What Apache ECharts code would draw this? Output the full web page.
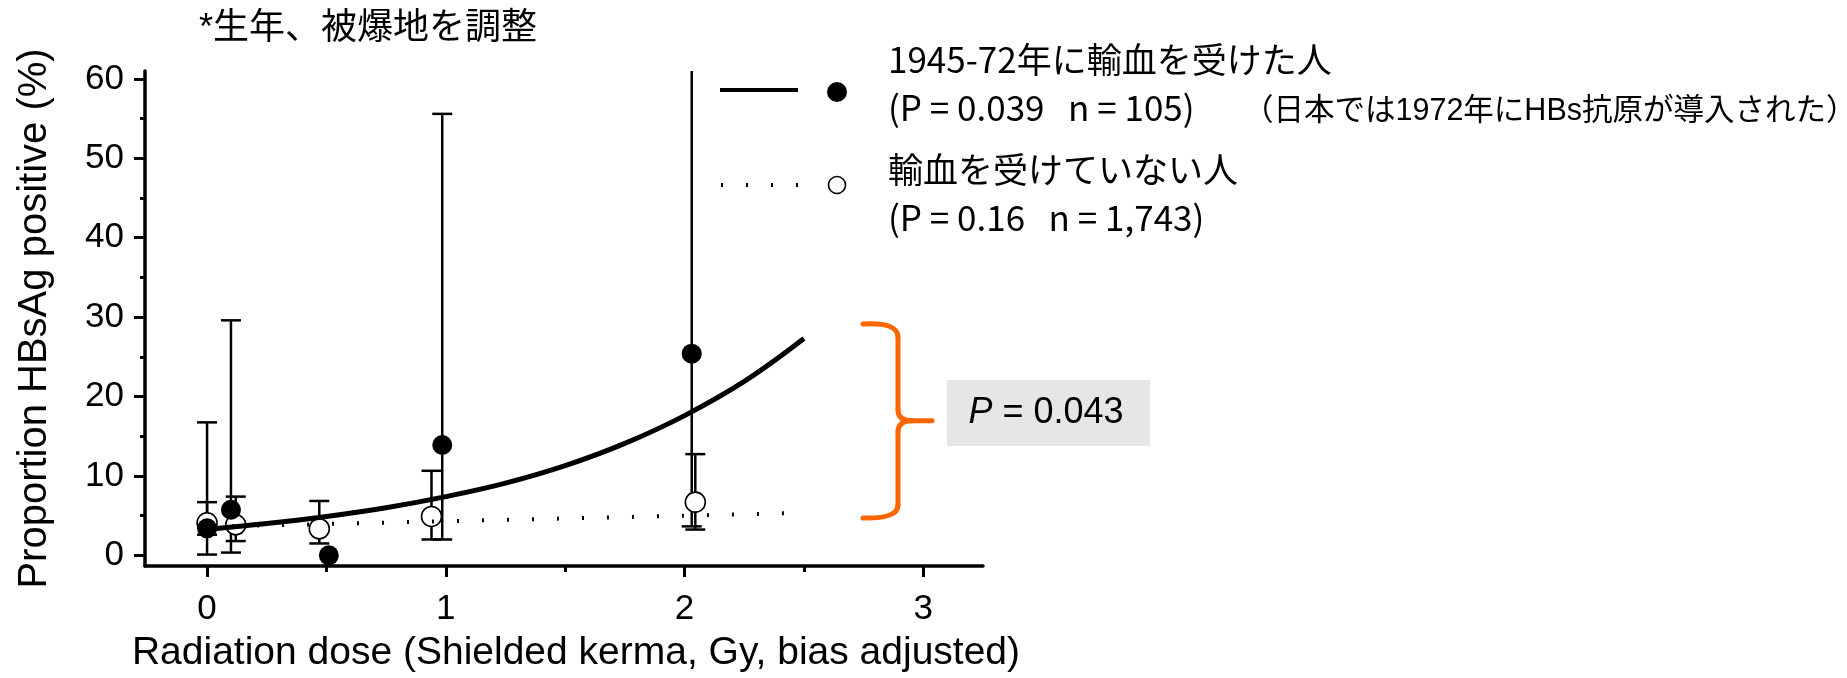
<!DOCTYPE html>
<html>
<head>
<meta charset="utf-8">
<script src="https://cdn.jsdelivr.net/npm/echarts@6/dist/echarts.min.js"></script>
<style>
html,body{margin:0;padding:0;background:#fff;}
#chart{width:1847px;height:678px;}
</style>
</head>
<body>
<div id="chart"></div>
<script>
// ---- data ----
const transfusedX    = [0, 0.10, 0.51, 0.985, 2.03];
const transfusedY    = [3.4, 5.75, 0.0, 13.9, 25.4];
const transfusedLow  = [0.1, 0.35, null, 2.0, 3.65];
const transfusedHigh = [16.75, 29.6, null, 55.6, 70];

const noTransX    = [0, 0.12, 0.47, 0.94, 2.045];
const noTransY    = [4.1, 3.85, 3.35, 4.9, 6.7];
const noTransLow  = [2.6, 1.8, 1.5, 2.0, 3.25];
const noTransHigh = [6.7, 7.4, 6.85, 10.65, 12.75];

const fitTransX = [0, 0.25, 0.5, 0.75, 1.0, 1.25, 1.5, 1.75, 2.0, 2.25, 2.5];
const fitTransY = [3.25, 4.0, 4.9, 6.0, 7.4, 9.1, 11.3, 14.1, 17.6, 21.9, 27.3];

const fitNoTransX = [0, 0.5, 1.0, 1.5, 2.0, 2.42];
const fitNoTransY = [3.6, 3.95, 4.3, 4.65, 5.0, 5.3];

const xTicks = [0, 1, 2, 3];
const xMinorTicks = [0.5, 1.5, 2.5];
const yTicks = [0, 10, 20, 30, 40, 50, 60];
const yMinorTicks = [5, 15, 25, 35, 45, 55];

// ---- styling ----
const LATIN = "'Liberation Sans', Arial, sans-serif";
const JP = "'Noto Sans CJK JP', sans-serif";
const MIX = "'Liberation Sans', 'Noto Sans CJK JP', sans-serif";
const X_MIN = -0.26, X_MAX = 3.25, Y_MIN = -1.34, Y_MAX = 61;

const zip = (a, b) => a.map((v, i) => [v, b[i]]);
const errData = (xs, lo, hi) => xs.map((v, i) => [v, lo[i], hi[i]]).filter(d => d[1] != null);

function errRender(params, api) {
  const x = api.value(0), lo = api.value(1), hi = api.value(2);
  const hiC = Math.min(hi, Y_MAX);
  const pLo = api.coord([x, lo]);
  const pHi = api.coord([x, hiC]);
  const w = 10;
  const st = {stroke: '#000', lineWidth: 2.5};
  const children = [
    {type: 'line', shape: {x1: pLo[0], y1: pLo[1], x2: pHi[0], y2: pHi[1]}, style: st},
    {type: 'line', shape: {x1: pLo[0] - w, y1: pLo[1], x2: pLo[0] + w, y2: pLo[1]}, style: st}
  ];
  if (hi <= Y_MAX) {
    children.push({type: 'line', shape: {x1: pHi[0] - w, y1: pHi[1], x2: pHi[0] + w, y2: pHi[1]}, style: st});
  }
  return {type: 'group', children};
}

const braceStyle = {stroke: '#ff6600', lineWidth: 5, lineCap: 'round', fill: null};
const bz = (x1, y1, cx, cy, x2, y2) => ({type: 'bezierCurve', shape: {x1, y1, cpx1: cx, cpy1: cy, x2, y2}, style: braceStyle});
const ln = (x1, y1, x2, y2) => ({type: 'line', shape: {x1, y1, x2, y2}, style: braceStyle});
const legText = (x, y, text, size, family) => ({type: 'text', x, y, style: {text, fontSize: size, fontFamily: family, fill: '#000', verticalAlign: 'middle'}});

const chart = echarts.init(document.getElementById('chart'));
const option = {
  backgroundColor: '#fff',
  animation: false,
  title: {
    text: '*生年、被爆地を調整',
    left: 199, top: 11, padding: 0,
    textStyle: {fontSize: 36, fontWeight: 'normal', color: '#000', fontFamily: MIX}
  },
  grid: {left: 145, right: 864, top: 71, bottom: 108},
  xAxis: [{
    type: 'value', min: X_MIN, max: X_MAX,
    axisLine: {show: true, onZero: false, lineStyle: {color: '#000', width: 3.5}},
    axisTick: {show: true, customValues: xTicks, length: 11, lineStyle: {color: '#000', width: 3}},
    axisLabel: {customValues: xTicks, fontSize: 35, color: '#000', fontFamily: LATIN, margin: 26},
    splitLine: {show: false},
    name: 'Radiation dose (Shielded kerma, Gy, bias adjusted)',
    nameLocation: 'middle', nameGap: 68,
    nameTextStyle: {fontSize: 39, color: '#000', fontFamily: LATIN, padding: [0, 0, 0, 24]}
  }, {
    type: 'value', min: X_MIN, max: X_MAX, position: 'bottom',
    axisLine: {show: false, onZero: false},
    axisTick: {show: true, customValues: xMinorTicks, length: 6, lineStyle: {color: '#000', width: 3}},
    axisLabel: {show: false},
    splitLine: {show: false}
  }],
  yAxis: [{
    type: 'value', min: Y_MIN, max: Y_MAX,
    axisLine: {show: true, onZero: false, lineStyle: {color: '#000', width: 3.5}},
    axisTick: {show: true, customValues: yTicks, length: 11, lineStyle: {color: '#000', width: 3}},
    axisLabel: {customValues: yTicks, fontSize: 35, color: '#000', fontFamily: LATIN, margin: 21},
    splitLine: {show: false},
    name: 'Proportion HBsAg positive (%)',
    nameLocation: 'middle', nameGap: 90,
    nameTextStyle: {fontSize: 40, color: '#000', fontFamily: LATIN}
  }, {
    type: 'value', min: Y_MIN, max: Y_MAX, position: 'left',
    axisLine: {show: false, onZero: false},
    axisTick: {show: true, customValues: yMinorTicks, length: 5, lineStyle: {color: '#000', width: 3}},
    axisLabel: {show: false},
    splitLine: {show: false}
  }],
  series: [
    {
      name: '輸血を受けていない人 (fit)', type: 'line', data: zip(fitNoTransX, fitNoTransY),
      showSymbol: false, smooth: false,
      lineStyle: {color: '#000', width: 4, type: [2, 23], cap: 'butt'}
    },
    {
      name: '輸血を受けていない人 CI', type: 'custom', renderItem: errRender,
      data: errData(noTransX, noTransLow, noTransHigh), encode: {x: 0, y: [1, 2]}
    },
    {
      name: '輸血を受けていない人', type: 'scatter', data: zip(noTransX, noTransY),
      symbol: 'circle', symbolSize: 20,
      itemStyle: {color: '#fff', borderColor: '#000', borderWidth: 1.6, opacity: 1}
    },
    {
      name: '1945-72年に輸血を受けた人 (fit)', type: 'line', data: zip(fitTransX, fitTransY),
      showSymbol: false, smooth: 0.4,
      lineStyle: {color: '#000', width: 5}
    },
    {
      name: '1945-72年に輸血を受けた人 CI', type: 'custom', renderItem: errRender,
      data: errData(transfusedX, transfusedLow, transfusedHigh), encode: {x: 0, y: [1, 2]}
    },
    {
      name: '1945-72年に輸血を受けた人', type: 'scatter', data: zip(transfusedX, transfusedY),
      symbol: 'circle', symbolSize: 20,
      itemStyle: {color: '#000', opacity: 1}
    }
  ],
  graphic: [
    // legend
    {type: 'line', shape: {x1: 720, y1: 90, x2: 798, y2: 90}, style: {stroke: '#000', lineWidth: 4}},
    {type: 'circle', shape: {cx: 837, cy: 92, r: 10}, style: {fill: '#000'}},
    legText(888, 60, '1945-72年に輸血を受けた人', 35, JP),
    legText(888, 108, '(P = 0.039   n = 105)', 35, JP),
    legText(1243, 112, '（日本では1972年にHBs抗原が導入された）', 30.5, MIX),
    {type: 'line', shape: {x1: 721, y1: 185, x2: 800, y2: 185}, style: {stroke: '#000', lineWidth: 4, lineDash: [2, 23]}},
    {type: 'circle', shape: {cx: 837, cy: 185, r: 8.5}, style: {fill: '#fff', stroke: '#000', lineWidth: 1.6}},
    legText(888, 170, '輸血を受けていない人', 35, JP),
    legText(888, 218, '(P = 0.16   n = 1,743)', 35, JP),
    // brace
    bz(863, 324, 898, 322, 898, 337),
    ln(898, 337, 898, 410),
    bz(898, 410, 898, 420.7, 912, 420.7),
    ln(912, 420.7, 932, 420.7),
    bz(912, 420.7, 898, 420.7, 898, 432),
    ln(898, 432, 898, 505),
    bz(898, 505, 898, 519, 863, 518),
    // P box
    {type: 'rect', shape: {x: 947, y: 380, width: 203, height: 66}, style: {fill: '#e6e6e6'}},
    {type: 'text', x: 1046, y: 413, style: {text: '{i|P} = 0.043', fontSize: 36, fontFamily: LATIN, fill: '#000', align: 'center', verticalAlign: 'middle',
      rich: {i: {fontStyle: 'italic', fontSize: 36, fontFamily: LATIN, fill: '#000'}}}}
  ]
};
chart.setOption(option);
</script>
</body>
</html>
